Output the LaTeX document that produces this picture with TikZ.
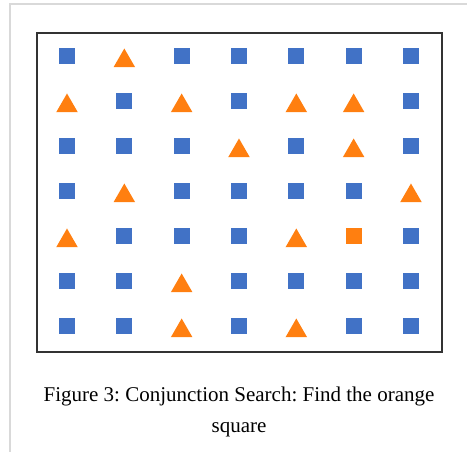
\documentclass[tikz,border=0pt]{standalone}
\usepackage{fontspec}
\setmainfont{Liberation Serif}
\usepackage{tikz}
\usetikzlibrary{shapes.geometric}
\definecolor{searchblue}{HTML}{4172C6}
\definecolor{searchorange}{HTML}{FF7F10}
\definecolor{framegray}{HTML}{333333}
\definecolor{pagegray}{HTML}{D9D9D9}
\frenchspacing

\begin{document}
\begin{tikzpicture}[
    x=1pt, y=-1pt,
    sq/.style={rectangle, fill=searchblue, minimum size=16pt, inner sep=0pt},
    tri/.style={regular polygon, regular polygon sides=3, fill=searchorange,
                minimum size=25pt, inner sep=0pt, yshift=-5pt},
    tgt/.style={sq, fill=searchorange},
    caption/.style={font=\fontsize{21}{31}\selectfont, align=center},
]
\useasboundingbox (0,0) rectangle (467,452);

% Page edge
\draw[pagegray, line width=1.5pt] (10,452) -- (10,4) -- (467,4);

% Display frame
\draw[framegray, line width=2pt] (37,33) rectangle (442,352);

% Search items (s = blue square, t = orange triangle, o = orange square)
\foreach \row/\items in {
    1/{s,t,s,s,s,s,s},
    2/{t,s,t,s,t,t,s},
    3/{s,s,s,t,s,t,s},
    4/{s,t,s,s,s,s,t},
    5/{t,s,s,s,t,o,s},
    6/{s,s,t,s,s,s,s},
    7/{s,s,t,s,t,s,s}} {
  \foreach \k [count=\col] in \items {
    \pgfmathsetmacro{\px}{67+57.33*(\col-1)}
    \pgfmathsetmacro{\py}{56+45*(\row-1)}
    \if\k s
      \node[sq] (r\row c\col) at (\px,\py) {};
    \else\if\k t
      \node[tri] (r\row c\col) at (\px,\py) {};
    \else
      \node[tgt] (r\row c\col) at (\px,\py) {};
    \fi\fi
  }
}

% Caption
\node[caption, anchor=north] (cap) at (239,383)
  {Figure 3: Conjunction Search: Find the orange\\square};

\end{tikzpicture}
\end{document}
